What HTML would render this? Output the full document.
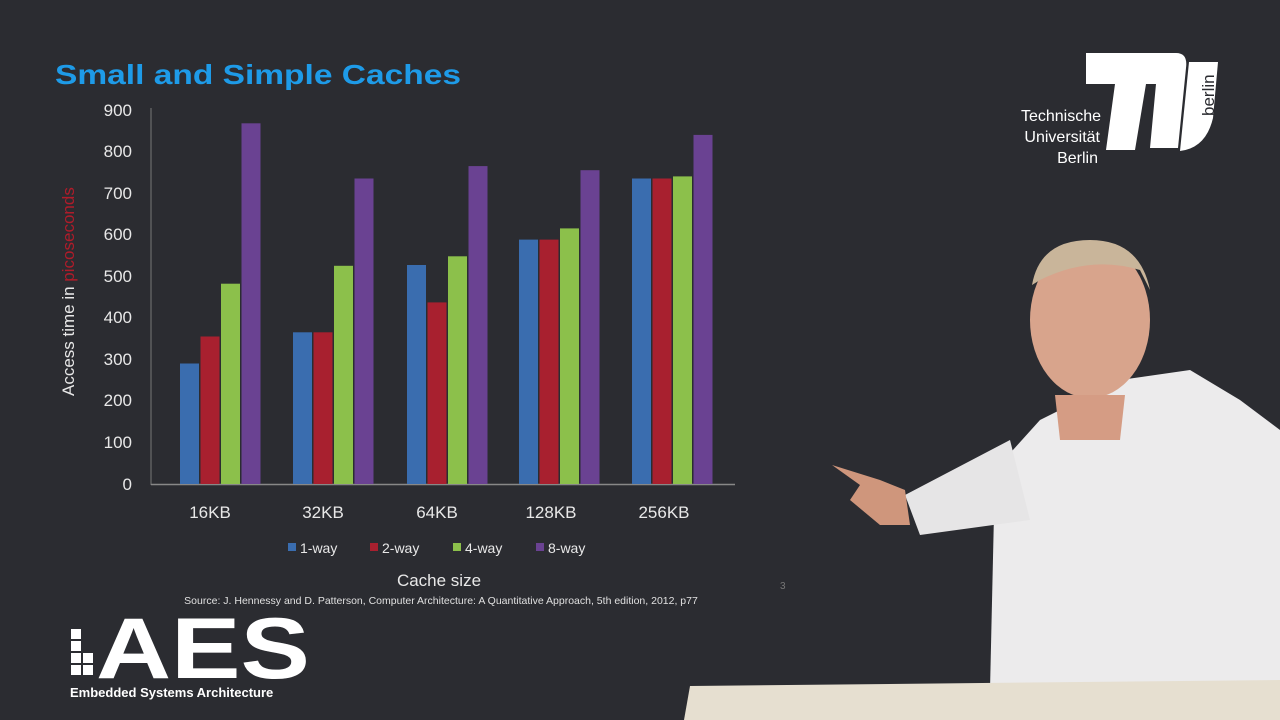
<!DOCTYPE html>
<html><head><meta charset="utf-8"><style>
html,body{margin:0;padding:0;background:#2b2c31;}
svg{display:block}
</style></head><body>
<svg width="1280" height="720" viewBox="0 0 1280 720" xmlns="http://www.w3.org/2000/svg" font-family="Liberation Sans, sans-serif">
<rect width="1280" height="720" fill="#2b2c31"/>
<text x="55" y="84" font-size="28" font-weight="bold" fill="#1e9be8" textLength="406" lengthAdjust="spacingAndGlyphs">Small and Simple Caches</text>
<g fill="#e8e8e8" font-size="17" text-anchor="end">
<text x="132" y="490">0</text><text x="132" y="448">100</text><text x="132" y="406">200</text><text x="132" y="365">300</text><text x="132" y="323">400</text><text x="132" y="282">500</text><text x="132" y="240">600</text><text x="132" y="199">700</text><text x="132" y="157">800</text><text x="132" y="116">900</text>
</g>
<text transform="translate(74,396) rotate(-90)" font-size="17" fill="#e8e8e8">Access time in <tspan fill="#b01c2a">picoseconds</tspan></text>
<line x1="151" y1="108" x2="151" y2="485" stroke="#777" stroke-width="1"/>
<line x1="151" y1="484.5" x2="735" y2="484.5" stroke="#888" stroke-width="1.5"/>
<g>
<rect x="180" y="363.5" width="19" height="120.5" fill="#3a6daf"/>
<rect x="200.5" y="336.5" width="19" height="147.5" fill="#a8202f"/>
<rect x="221" y="283.7" width="19" height="200.3" fill="#8cc04b"/>
<rect x="241.5" y="123.3" width="19" height="360.7" fill="#6a4292"/>
<rect x="293" y="332.3" width="19" height="151.7" fill="#3a6daf"/>
<rect x="313.5" y="332.3" width="19" height="151.7" fill="#a8202f"/>
<rect x="334" y="265.8" width="19" height="218.2" fill="#8cc04b"/>
<rect x="354.5" y="178.5" width="19" height="305.5" fill="#6a4292"/>
<rect x="407" y="265" width="19" height="219" fill="#3a6daf"/>
<rect x="427.5" y="302.4" width="19" height="181.6" fill="#a8202f"/>
<rect x="448" y="256.3" width="19" height="227.7" fill="#8cc04b"/>
<rect x="468.5" y="166.1" width="19" height="317.9" fill="#6a4292"/>
<rect x="519" y="239.6" width="19" height="244.4" fill="#3a6daf"/>
<rect x="539.5" y="239.6" width="19" height="244.4" fill="#a8202f"/>
<rect x="560" y="228.4" width="19" height="255.6" fill="#8cc04b"/>
<rect x="580.5" y="170.2" width="19" height="313.8" fill="#6a4292"/>
<rect x="632" y="178.5" width="19" height="305.5" fill="#3a6daf"/>
<rect x="652.5" y="178.5" width="19" height="305.5" fill="#a8202f"/>
<rect x="673" y="176.4" width="19" height="307.6" fill="#8cc04b"/>
<rect x="693.5" y="134.9" width="19" height="349.1" fill="#6a4292"/>
</g>
<g fill="#e8e8e8" font-size="17" text-anchor="middle">
<text x="210" y="518">16KB</text><text x="323" y="518">32KB</text><text x="437" y="518">64KB</text><text x="551" y="518">128KB</text><text x="664" y="518">256KB</text>
</g>
<g font-size="14" fill="#e8e8e8">
<rect x="288" y="543" width="8" height="8" fill="#3a6daf"/><text x="300" y="553">1-way</text>
<rect x="370" y="543" width="8" height="8" fill="#a8202f"/><text x="382" y="553">2-way</text>
<rect x="453" y="543" width="8" height="8" fill="#8cc04b"/><text x="465" y="553">4-way</text>
<rect x="536" y="543" width="8" height="8" fill="#6a4292"/><text x="548" y="553">8-way</text>
</g>
<text x="439" y="586" font-size="17" fill="#e8e8e8" text-anchor="middle">Cache size</text>
<text x="441" y="604" font-size="10.5" fill="#e0e0e0" text-anchor="middle">Source: J. Hennessy and D. Patterson, Computer Architecture: A Quantitative Approach, 5th edition, 2012, p77</text>
<text x="780" y="589" font-size="10" fill="#777">3</text>
<!-- TU logo -->
<path d="M1086 53 L1176 53 Q1188 53 1186 68 L1178 148 L1150 148 L1156 84 L1146 84 L1135 150 L1106 150 L1115 84 L1086 84 Z" fill="#fff"/>
<path d="M1189 62 L1218 62 L1213 118 Q1206 148 1180 151 Z" fill="#fff"/>
<text transform="translate(1214,116) rotate(-90)" font-size="17" fill="#2b2c31">berlin</text>
<g fill="#fff" font-size="16" text-anchor="end">
<text x="1101" y="121">Technische</text><text x="1100" y="142">Universität</text><text x="1098" y="163">Berlin</text>
</g>
<!-- AES logo -->
<g fill="#fff">
<rect x="71" y="629" width="10" height="10"/><rect x="71" y="641" width="10" height="10"/><rect x="71" y="653" width="10" height="10"/><rect x="83" y="653" width="10" height="10"/><rect x="71" y="665" width="10" height="10"/><rect x="83" y="665" width="10" height="10"/>
</g>
<text transform="translate(96,678) scale(1.21,1)" font-size="86" font-weight="bold" fill="#fff">AES</text>
<text x="70" y="697" font-size="13" font-weight="bold" fill="#fff">Embedded Systems Architecture</text>
<!-- presenter approximation -->
<path d="M990 690 L995 470 L1040 420 L1120 380 L1190 370 L1240 400 L1280 430 L1280 690 Z" fill="#ecebec"/>
<path d="M905 495 L1010 440 L1030 520 L920 535 Z" fill="#e6e5e6"/>
<ellipse cx="1090" cy="320" rx="60" ry="78" fill="#d8a48c"/>
<path d="M1032 285 Q1040 240 1090 240 Q1140 240 1150 290 L1140 270 Q1090 255 1040 280 Z" fill="#c9b59a"/>
<path d="M1055 395 L1125 395 L1120 440 L1060 440 Z" fill="#d59c84"/>
<path d="M832 465 L880 480 L905 490 L910 525 L880 525 L850 500 L860 485 Z" fill="#cf967c"/>
<path d="M690 686 L1280 680 L1280 720 L684 720 Z" fill="#e6dfd0"/>
</svg>
</body></html>
